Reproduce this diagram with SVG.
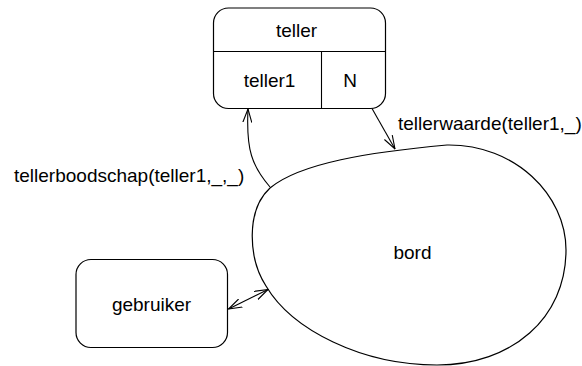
<svg xmlns="http://www.w3.org/2000/svg" width="582" height="366" viewBox="0 0 582 366">
  <defs>
    <style>
      .shape { fill: #ffffff; stroke: #000000; stroke-width: 1.2; }
      .line { fill: none; stroke: #000000; stroke-width: 1.1; }
      text { font-family: "Liberation Sans", Arial, sans-serif; font-size: 19px; fill: #000000; }
      .c { text-anchor: middle; }
    </style>
    <marker id="open" viewBox="0 0 14 10" refX="13.5" refY="5" markerWidth="14" markerHeight="10" markerUnits="userSpaceOnUse" orient="auto-start-reverse">
      <path d="M0,0.5 L13.5,5 L0,9.5" fill="none" stroke="#000000" stroke-width="1.1"/>
    </marker>
  </defs>

  <g id="teller">
    <rect class="shape" x="213.5" y="8" width="172" height="100.5" rx="15" ry="15"/>
    <line class="line" x1="213.5" y1="51.5" x2="385.5" y2="51.5"/>
    <line class="line" x1="321.5" y1="51.5" x2="321.5" y2="108.5"/>
    <text class="c" x="296.5" y="37">teller</text>
    <text class="c" x="269.5" y="87">teller1</text>
    <text class="c" x="350" y="87">N</text>
  </g>

  <g id="bord">
    <path class="shape" d="M447,145 C515,144 566,195 566,250 C566,318 512,365 437,365 C362,365 292,330 266,286 C248,258 246,210 270,188 C300,163 370,152 447,145 Z"/>
    <text class="c" x="412.5" y="259">bord</text>
  </g>

  <g id="gebruiker">
    <rect class="shape" x="76" y="259.5" width="151.5" height="88" rx="15" ry="15"/>
    <text class="c" x="151.5" y="311">gebruiker</text>
  </g>

  <g id="connectors">
    <path class="line" d="M270,187 C252,166 246,150 248,109" marker-end="url(#open)"/>
    <path class="line" d="M372,108.5 L395,149" marker-end="url(#open)"/>
    <path class="line" d="M228.5,309 L268,289.5" marker-start="url(#open)" marker-end="url(#open)"/>
    <text x="14" y="182">tellerboodschap(teller1,_,_)</text>
    <text x="398" y="130">tellerwaarde(teller1,_)</text>
  </g>
</svg>
